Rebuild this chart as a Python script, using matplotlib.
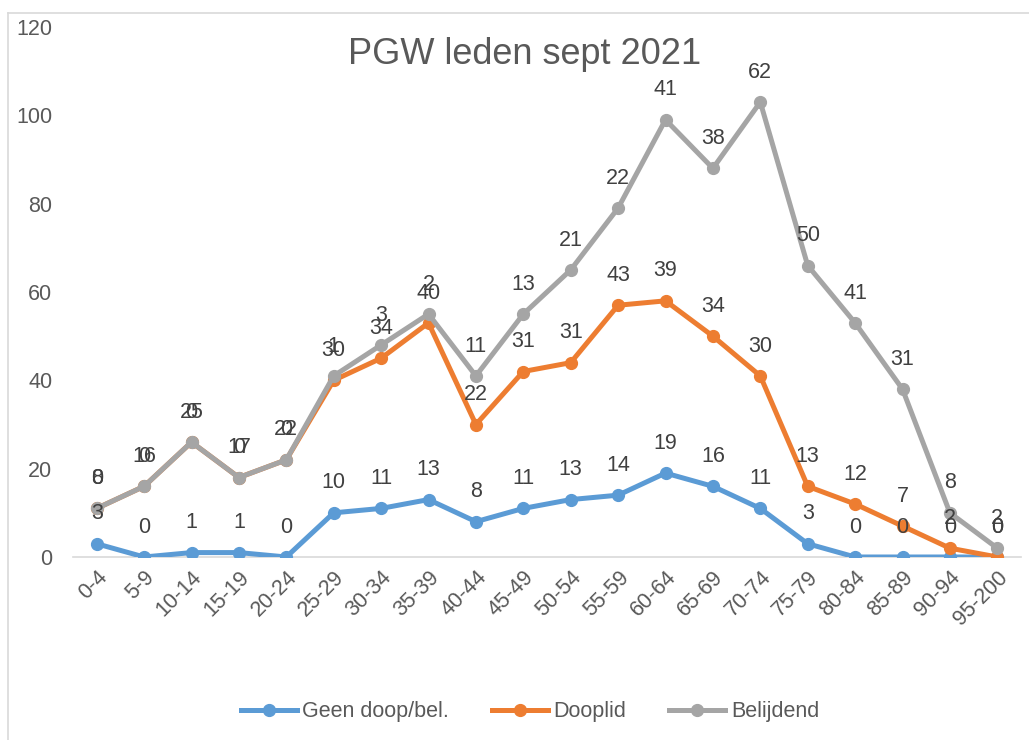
import numpy as np
import matplotlib
matplotlib.use("Agg")
import matplotlib.pyplot as plt
from matplotlib.lines import Line2D

plt.rcParams['font.family'] = ['Liberation Sans', 'DejaVu Sans']

categories = ['0-4', '5-9', '10-14', '15-19', '20-24', '25-29', '30-34', '35-39',
              '40-44', '45-49', '50-54', '55-59', '60-64', '65-69', '70-74',
              '75-79', '80-84', '85-89', '90-94', '95-200']
geen = [3, 0, 1, 1, 0, 10, 11, 13, 8, 11, 13, 14, 19, 16, 11, 3, 0, 0, 0, 0]
dooplid = [8, 16, 25, 17, 22, 30, 34, 40, 22, 31, 31, 43, 39, 34, 30, 13, 12, 7, 2, 0]
belijdend = [0, 0, 0, 0, 0, 1, 3, 2, 11, 13, 21, 22, 41, 38, 62, 50, 41, 31, 8, 2]

names = ['Geen doop/bel.', 'Dooplid', 'Belijdend']
colors = ['#5B9BD5', '#ED7D31', '#A5A5A5']

# stacked line chart
series = [np.array(geen), np.array(dooplid), np.array(belijdend)]
stacked = np.cumsum(series, axis=0)

fs = 15.5

fig = plt.figure(figsize=(10.29, 7.4), dpi=100)
ax = fig.add_axes([73/1029, 1-557/740, (1021-73)/1029, (557-27)/740])

x = np.arange(len(categories))
for vals, tot, name, c in zip(series, stacked, names, colors):
    ax.plot(x, tot, color=c, lw=3.6, marker='o', ms=8.5, label=name,
            solid_joinstyle='round', zorder=3)

for vals, tot in zip(series, stacked):
    for xi, v, t in zip(x, vals, tot):
        ax.annotate(str(v), (xi, t), xytext=(0, 21.5), textcoords='offset points',
                    ha='center', va='center', fontsize=fs, color='#404040', zorder=5)

ax.set_xlim(-0.5, len(categories) - 0.5)
ax.set_ylim(0, 120)
ax.set_yticks(range(0, 121, 20))
ax.set_xticks(x)
ax.set_xticklabels(categories, rotation=45, ha='right', va='top', rotation_mode='anchor')
ax.tick_params(axis='both', length=0, colors='#595959', labelsize=fs)
ax.tick_params(axis='y', pad=15)
ax.tick_params(axis='x', pad=7)
for s in ['left', 'right', 'top']:
    ax.spines[s].set_visible(False)
ax.spines['bottom'].set_color('#D9D9D9')
ax.spines['bottom'].set_linewidth(1.2)

fig.text(525/1029, 1-55/740, 'PGW leden sept 2021', ha='center', va='center',
         fontsize=26, color='#595959')

fig.legend(loc='center', bbox_to_anchor=(530/1029, 1-712/740), ncol=3, frameon=False,
           fontsize=fs, handlelength=2.6, handletextpad=0.25, columnspacing=2.0,
           labelcolor='#595959')

# chart area border (left and top edges)
fig.add_artist(Line2D([8/1029, 8/1029], [0, 1-13/740], transform=fig.transFigure,
                      color='#D9D9D9', lw=1.2))
fig.add_artist(Line2D([8/1029, 1], [1-13/740, 1-13/740], transform=fig.transFigure,
                      color='#D9D9D9', lw=1.2))

fig.savefig('out.png', dpi=100)
